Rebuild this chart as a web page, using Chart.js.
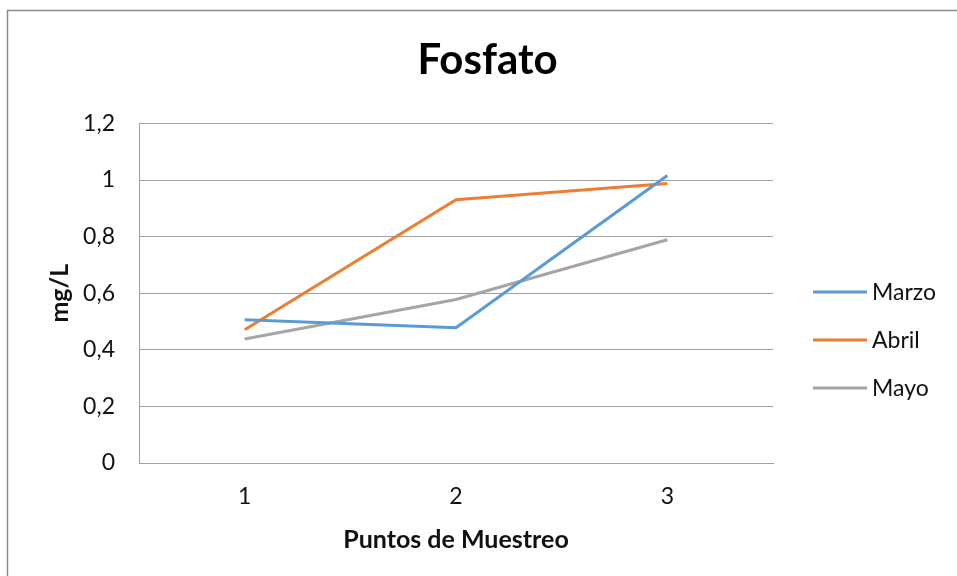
<!DOCTYPE html>
<html>
<head>
<meta charset="utf-8">
<script src="https://cdn.jsdelivr.net/npm/chart.js@4/dist/chart.umd.min.js"></script>
<style>
html,body{margin:0;padding:0;background:#fff;overflow:hidden;}
canvas{display:block;}
</style>
</head>
<body>
<canvas id="c" width="957" height="576"></canvas>
<script>
const categories = ['1', '2', '3'];
const marzo = [0.506, 0.478, 1.016];
const abril = [0.471, 0.930, 0.988];
const mayo  = [0.438, 0.578, 0.789];
const seriesNames = ['Marzo', 'Abril', 'Mayo'];
const yTicks = [0, 0.2, 0.4, 0.6, 0.8, 1, 1.2];

const FONT = 'Lato';
const TXT = '#111';
const GRID = '#a0a0a0';

const frame = {
  id: 'frame',
  beforeDraw(chart) {
    const ctx = chart.ctx;
    ctx.save();
    ctx.fillStyle = '#fff';
    ctx.fillRect(0, 0, chart.width, chart.height);
    ctx.strokeStyle = '#8a8a8a';
    ctx.lineWidth = 1.5;
    ctx.beginPath();
    ctx.moveTo(7.5, chart.height + 2);
    ctx.lineTo(7.5, 10.5);
    ctx.lineTo(chart.width + 2, 10.5);
    ctx.stroke();
    ctx.restore();
  }
};

const sideLegend = {
  id: 'sideLegend',
  afterDraw(chart) {
    const ctx = chart.ctx;
    ctx.save();
    ctx.font = '23px ' + FONT;
    ctx.textBaseline = 'middle';
    ctx.textAlign = 'left';
    chart.data.datasets.forEach((ds, i) => {
      const y = 292 + 48 * i;
      ctx.strokeStyle = ds.borderColor;
      ctx.lineWidth = 3;
      ctx.beginPath();
      ctx.moveTo(813, y);
      ctx.lineTo(867, y);
      ctx.stroke();
      ctx.fillStyle = TXT;
      ctx.fillText(ds.label, 872, y + 1);
    });
    ctx.restore();
  }
};

new Chart(document.getElementById('c'), {
  type: 'line',
  data: {
    labels: categories,
    datasets: [
      { label: seriesNames[0], data: marzo, borderColor: '#5B9BD5', backgroundColor: '#5B9BD5' },
      { label: seriesNames[1], data: abril, borderColor: '#ED7D31', backgroundColor: '#ED7D31' },
      { label: seriesNames[2], data: mayo,  borderColor: '#A5A5A5', backgroundColor: '#A5A5A5' }
    ].map(d => Object.assign(d, { borderWidth: 3, pointRadius: 0, tension: 0, fill: false }))
  },
  options: {
    responsive: false,
    animation: false,
    events: [],
    layout: { padding: { left: 18, right: 0, top: 0, bottom: 0 } },
    plugins: {
      legend: { display: false },
      tooltip: { enabled: false },
      title: {
        display: true,
        text: 'Fosfato',
        color: '#000',
        font: { family: FONT, size: 42, weight: 'bold', lineHeight: 1.2 },
        padding: { top: 35, bottom: 38 }
      }
    },
    scales: {
      x: {
        type: 'category',
        offset: true,
        grid: { display: false, drawTicks: false },
        border: { display: true, color: GRID, width: 1 },
        ticks: { color: TXT, font: { family: FONT, size: 23 }, padding: 20, maxRotation: 0 },
        title: {
          display: true, text: 'Puntos de Muestreo', color: TXT,
          font: { family: FONT, size: 25, weight: 'bold', lineHeight: 1.2 },
          padding: { top: 0, bottom: 21 }
        },
        afterFit(s) { s.height = 113; }
      },
      y: {
        position: 'left',
        min: 0, max: 1.2,
        afterBuildTicks(s) { s.ticks = yTicks.map(v => ({ value: v })); },
        grid: { color: GRID, lineWidth: 1, drawTicks: false },
        border: { display: true, color: GRID, width: 1 },
        ticks: {
          color: TXT, font: { family: FONT, size: 23 }, padding: 24,
          callback: v => String(Number(v.toFixed(1))).replace('.', ',')
        },
        title: {
          display: true, text: 'mg/L', color: TXT,
          font: { family: FONT, size: 25, weight: 'bold', lineHeight: 1.2 },
          padding: { top: 27, bottom: 0 }
        },
        afterFit(s) { s.width = 121; }
      },
      legendSpace: {
        position: 'right',
        display: true,
        grid: { display: false, drawTicks: false },
        border: { display: false },
        ticks: { display: false },
        afterFit(s) { s.width = 184; }
      }
    }
  },
  plugins: [frame, sideLegend]
});
</script>
</body>
</html>
